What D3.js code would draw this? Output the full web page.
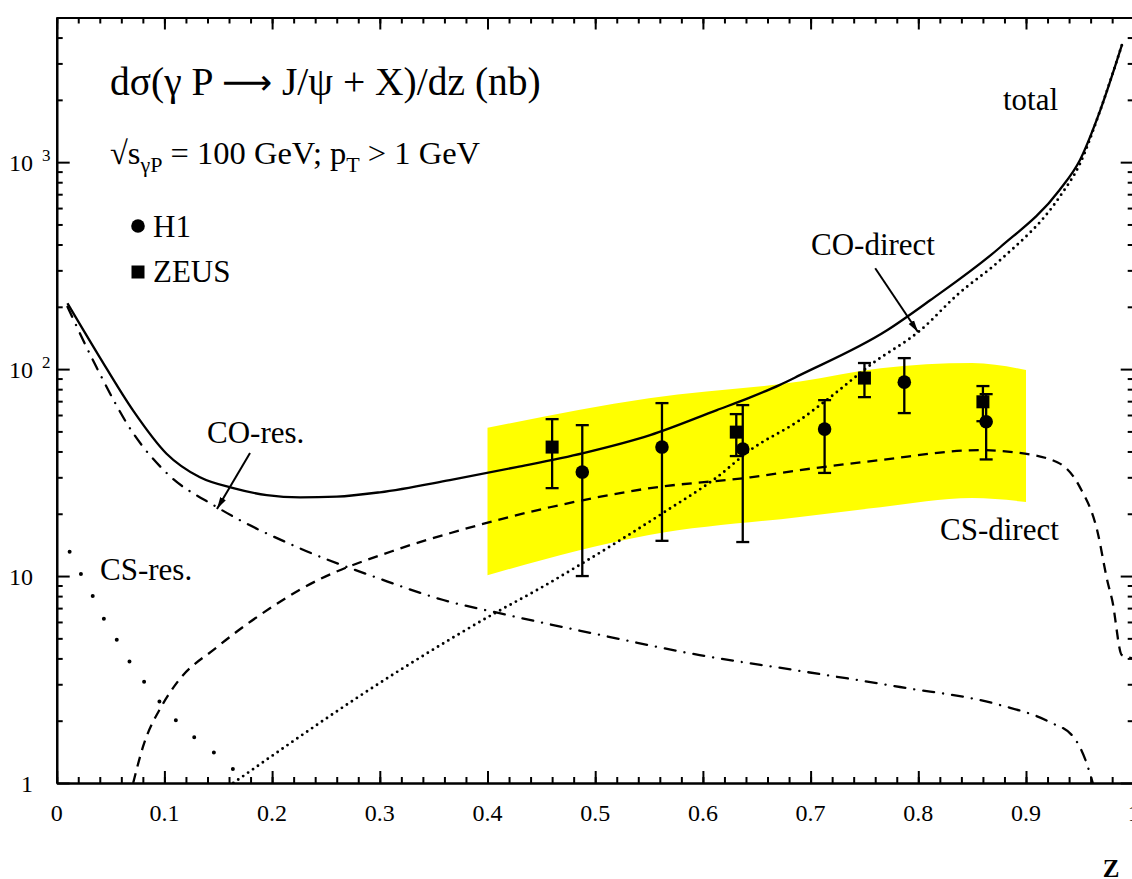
<!DOCTYPE html>
<html><head><meta charset="utf-8">
<script src="https://cdn.jsdelivr.net/npm/d3@7"></script>
<style>
body{margin:0;background:#fff}
svg{display:block}
text{font-family:"Liberation Serif","Times New Roman",serif;fill:#000}
</style></head><body>
<svg id="c" width="1132" height="879"></svg>
<script>
// ---- data ----
const xTicksMajor = [0,0.1,0.2,0.3,0.4,0.5,0.6,0.7,0.8,0.9,1];
const xTickLabels = ["0","0.1","0.2","0.3","0.4","0.5","0.6","0.7","0.8","0.9","1"];
const yTicksMajor = [1,10,100,1000];
const yTickLabels = [["1",""],["10",""],["10","2"],["10","3"]];

const zTotal = [0.01,0.04,0.071,0.102,0.133,0.164,0.195,0.226,0.26,0.3,0.365,0.427,0.489,0.551,0.613,0.644,0.671,0.69,0.771,0.811,0.876,0.931,0.95,0.969,0.989];
const vTotal = [208,114,63,39,30,26.6,24.6,24,24.2,25.4,29.1,33.6,39.3,48,63.4,73,83.7,93.5,154,215,388,732,1022,1785,3675];

const zCOres = [0.01,0.037,0.071,0.102,0.149,0.226,0.3,0.359,0.412,0.505,0.597,0.684,0.783,0.876,0.922,0.944,0.955,0.962];
const vCOres = [200,102,49,31.5,21.5,13.6,9.7,7.66,6.6,5.19,4.15,3.52,2.91,2.38,1.97,1.67,1.3,1.0];

const zCSres = [0.012,0.023,0.034,0.045,0.057,0.069,0.083,0.098,0.113,0.131,0.15,0.167,0.179];
const vCSres = [13.1,10.1,7.9,6.06,4.8,3.76,3.0,2.38,1.95,1.61,1.35,1.13,1.03];

const zCSdir = [0.071,0.08,0.098,0.112,0.149,0.21,0.226,0.319,0.365,0.458,0.551,0.644,0.69,0.764,0.857,0.888,0.929,0.95,0.966,0.976,0.98,0.989,1.0];
const vCSdir = [1.0,1.49,2.38,3.07,4.54,7.66,8.6,13.6,16.1,21.5,26.6,30,32.5,36.3,40.6,39.7,35.5,26.9,16.7,9.25,7.66,4.15,4.0];

const zCOdir = [0.164,0.319,0.412,0.446,0.489,0.567,0.613,0.644,0.69,0.718,0.758,0.802,0.836,0.876,0.931,0.95,0.969,0.989];
const vCOdir = [1.0,3.52,6.85,8.56,11.6,20.8,30,40.6,56.7,73,107,154,228,336,677,980,1785,3675];

const zBand = [0.4,0.55,0.69,0.765,0.85,0.9];
const bandHi = [52,72.4,87,101,107,99];
const bandLo = [10.1,15.8,19.3,21.5,23.8,22.8];

const zH1 = [0.488,0.562,0.637,0.713,0.787,0.863];
const vH1 = [31.8,42,41.1,51.3,86.5,55.7];
const hiH1 = [53.6,68.5,67,70.8,113,75.7];
const loH1 = [10.0,14.8,14.6,31.5,61.3,36.6];

const zZEUS = [0.46,0.631,0.75,0.86];
const vZEUS = [42,49.6,90.5,69.5];
const hiZEUS = [57.3,60.6,107,82.8];
const loZEUS = [26.6,38,73.2,56];

// arrows: [z0, v0, z1, v1]
const arrowCOres = [0.1795, 39.3, 0.1488, 21.1];
const arrowCOdir = [0.76, 307, 0.7997, 151];

// ---- layout ----
const L = 56.7, R = 1133.7, T = 17.5, B = 783;
const x = d3.scaleLinear().domain([0,1]).range([L,R]);
const y = d3.scaleLog().domain([1,5000]).range([B,T]);
const svg = d3.select("#c");

const defs = svg.append("defs");
defs.append("clipPath").attr("id","clip").append("rect")
  .attr("x",L).attr("y",T).attr("width",R-L).attr("height",B-T);
defs.append("marker").attr("id","arr").attr("viewBox","0 0 12 8")
  .attr("refX",12).attr("refY",4).attr("markerWidth",12).attr("markerHeight",8)
  .attr("markerUnits","userSpaceOnUse").attr("orient","auto")
  .append("path").attr("d","M0,0.8 L12,4 L0,7.2 Z").attr("fill","#000");

const plot = svg.append("g").attr("clip-path","url(#clip)");

// band
const band = zBand.map((z,i)=>({z, hi:bandHi[i], lo:bandLo[i]}));
plot.append("path").datum(band)
  .attr("d", d3.area().x(d=>x(d.z)).y0(d=>y(d.lo)).y1(d=>y(d.hi)).curve(d3.curveMonotoneX))
  .attr("fill","#ffff00");

// curves
const mk = (zs,vs)=>zs.map((z,i)=>({z, v:vs[i]}));
const line = d3.line().x(d=>x(d.z)).y(d=>y(d.v)).curve(d3.curveMonotoneX);
function curve(zs, vs, dash, w, cap){
  plot.append("path").datum(mk(zs,vs)).attr("d", line)
    .attr("fill","none").attr("stroke","#000").attr("stroke-width",w)
    .attr("stroke-dasharray",dash).attr("stroke-linecap",cap||"butt");
}
curve(zCOdir, vCOdir, "0 6", 2.9, "round");
curve(zCSdir, vCSdir, "10 7", 2.3);
curve(zCOres, vCOres, "11 9 0.1 9", 2.3, "round");
curve(zCSres, vCSres, "0 25", 4, "round");
curve(zTotal, vTotal, null, 2.3);

// error bars
function errbars(zs, vs, his, los){
  const g = plot.append("g").attr("stroke","#000").attr("stroke-width",2.3);
  zs.forEach((z,i)=>{
    g.append("line").attr("x1",x(z)).attr("x2",x(z)).attr("y1",y(his[i])).attr("y2",y(los[i]));
    g.append("line").attr("x1",x(z)-6.5).attr("x2",x(z)+6.5).attr("y1",y(his[i])).attr("y2",y(his[i]));
    g.append("line").attr("x1",x(z)-6.5).attr("x2",x(z)+6.5).attr("y1",y(los[i])).attr("y2",y(los[i]));
  });
}
errbars(zZEUS, vZEUS, hiZEUS, loZEUS);
errbars(zH1, vH1, hiH1, loH1);
plot.append("g").selectAll("rect").data(mk(zZEUS,vZEUS)).join("rect")
  .attr("x",d=>x(d.z)-6.5).attr("y",d=>y(d.v)-6.5).attr("width",13).attr("height",13).attr("fill","#000");
plot.append("g").selectAll("circle").data(mk(zH1,vH1)).join("circle")
  .attr("cx",d=>x(d.z)).attr("cy",d=>y(d.v)).attr("r",6.8).attr("fill","#000");

// arrows
[arrowCOres, arrowCOdir].forEach(a=>{
  svg.append("line").attr("x1",x(a[0])).attr("y1",y(a[1])).attr("x2",x(a[2])).attr("y2",y(a[3]))
    .attr("stroke","#000").attr("stroke-width",2).attr("marker-end","url(#arr)");
});

// axes
const xMinor = d3.range(0,1.0001,0.02);
const yMinor = [];
[1,10,100,1000].forEach(d=>{ for(let k=2;k<=9;k++){ if(d*k<=5000) yMinor.push(d*k);} });

function styleAxis(g){
  g.selectAll("path.domain").attr("stroke","#000").attr("stroke-width",2.2);
  g.selectAll(".tick line").attr("stroke","#000").attr("stroke-width",2);
  g.selectAll(".tick text").remove();
}
const fmtNone = ()=>"";
svg.append("g").attr("transform",`translate(0,${B})`)
  .call(d3.axisBottom(x).tickValues(xMinor).tickSize(-6).tickSizeOuter(0).tickFormat(fmtNone)).call(styleAxis);
svg.append("g").attr("transform",`translate(0,${B})`)
  .call(d3.axisBottom(x).tickValues(xTicksMajor).tickSize(-12).tickSizeOuter(0).tickFormat(fmtNone)).call(styleAxis);
svg.append("g").attr("transform",`translate(0,${T})`)
  .call(d3.axisTop(x).tickValues(xMinor).tickSize(-6).tickSizeOuter(0).tickFormat(fmtNone)).call(styleAxis);
svg.append("g").attr("transform",`translate(0,${T})`)
  .call(d3.axisTop(x).tickValues(xTicksMajor).tickSize(-12).tickSizeOuter(0).tickFormat(fmtNone)).call(styleAxis);
svg.append("g").attr("transform",`translate(${L},0)`)
  .call(d3.axisLeft(y).tickValues(yMinor).tickSize(-6).tickSizeOuter(0).tickFormat(fmtNone)).call(styleAxis);
svg.append("g").attr("transform",`translate(${L},0)`)
  .call(d3.axisLeft(y).tickValues(yTicksMajor).tickSize(-13).tickSizeOuter(0).tickFormat(fmtNone)).call(styleAxis);
svg.append("g").attr("transform",`translate(${R},0)`)
  .call(d3.axisRight(y).tickValues(yMinor).tickSize(-6).tickSizeOuter(0).tickFormat(fmtNone)).call(styleAxis);
svg.append("g").attr("transform",`translate(${R},0)`)
  .call(d3.axisRight(y).tickValues(yTicksMajor).tickSize(-13).tickSizeOuter(0).tickFormat(fmtNone)).call(styleAxis);

// tick labels
xTicksMajor.forEach((d,i)=>{
  svg.append("text").attr("x",x(d)).attr("y",821).attr("text-anchor","middle")
    .attr("font-size",24).text(xTickLabels[i]);
});
yTicksMajor.forEach((d,i)=>{
  svg.append("text").attr("x",33).attr("y",y(d)+8.5).attr("text-anchor","end")
    .attr("font-size",24).text(yTickLabels[i][0]);
  if(yTickLabels[i][1]) svg.append("text").attr("x",42).attr("y",y(d)-1).attr("font-size",17).text(yTickLabels[i][1]);
});
svg.append("text").attr("x",1111).attr("y",877).attr("text-anchor","middle")
  .attr("font-size",25).attr("font-weight","bold").text("Z");

// title & annotations
const t1 = svg.append("text").attr("x",110).attr("y",95).attr("font-size",39.5);
t1.append("tspan").text("dσ(γ P ");
t1.append("tspan").attr("font-family","DejaVu Sans").attr("font-size",35).attr("dy",-1).text("⟶");
t1.append("tspan").attr("dy",1).text(" J/ψ + X)/dz (nb)");
const t2 = svg.append("text").attr("x",110).attr("y",164).attr("font-size",32.5);
t2.append("tspan").text("√s");
t2.append("tspan").attr("font-size",22).attr("dy",8).text("γP");
t2.append("tspan").attr("dy",-8).text(" = 100 GeV; p");
t2.append("tspan").attr("font-size",22).attr("dy",8).text("T");
t2.append("tspan").attr("dy",-8).text(" > 1 GeV");

svg.append("circle").attr("cx",138).attr("cy",226).attr("r",6.8).attr("fill","#000");
svg.append("text").attr("x",153).attr("y",237).attr("font-size",31).text("H1");
svg.append("rect").attr("x",131.5).attr("y",265.5).attr("width",13).attr("height",13).attr("fill","#000");
svg.append("text").attr("x",153).attr("y",282).attr("font-size",31).text("ZEUS");

svg.append("text").attr("x",1003).attr("y",110).attr("font-size",31).text("total");
svg.append("text").attr("x",811).attr("y",255).attr("font-size",31).text("CO-direct");
svg.append("text").attr("x",207).attr("y",443).attr("font-size",31).text("CO-res.");
svg.append("text").attr("x",100).attr("y",580).attr("font-size",31).text("CS-res.");
svg.append("text").attr("x",940).attr("y",540).attr("font-size",31).text("CS-direct");
</script></body></html>
